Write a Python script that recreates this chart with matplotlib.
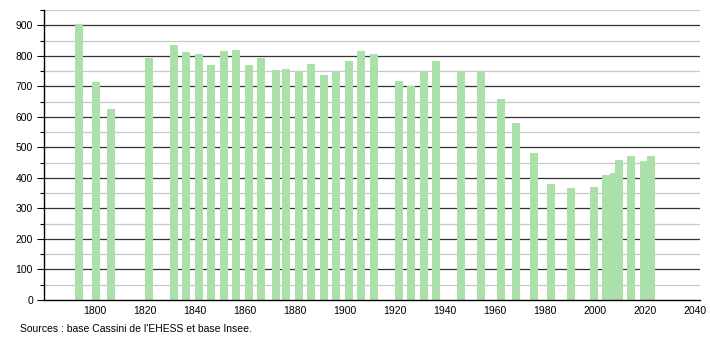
import numpy as np
import matplotlib.pyplot as plt
from matplotlib.ticker import MultipleLocator

# census years and population
years = [1793, 1800, 1806, 1821, 1831, 1836, 1841, 1846, 1851, 1856,
         1861, 1866, 1872, 1876, 1881, 1886, 1891, 1896, 1901, 1906,
         1911, 1921, 1926, 1931, 1936, 1946, 1954, 1962, 1968, 1975,
         1982, 1990, 1999, 2004, 2007, 2009, 2014, 2019, 2022]
population = [903, 715, 627, 793, 836, 811, 807, 770, 815, 820,
              770, 792, 754, 757, 751, 774, 738, 748, 784, 815,
              807, 718, 702, 748, 784, 751, 748, 659, 579, 482,
              380, 368, 371, 410, 417, 459, 473, 455, 472]
x_ticks = [1800, 1820, 1840, 1860, 1880, 1900, 1920, 1940, 1960, 1980, 2000, 2020, 2040]
source = "Sources : base Cassini de l'EHESS et base Insee."

plt.rcParams['font.family'] = ['Liberation Sans', 'DejaVu Sans']

fig = plt.figure(figsize=(7.1, 3.4), dpi=100)
ax = fig.add_axes([0.062, 0.1176, 0.924, 0.853])

# grid: dark lines every 100, light lines in between
for y in np.arange(50, 951, 100):
    ax.axhline(y, color='#c8c8c8', lw=0.9, zorder=0)
for y in np.arange(100, 901, 100):
    ax.axhline(y, color='#333333', lw=0.9, zorder=0)

ax.bar(np.array(years) + 0.5, population, width=3.2, color='#abe0ab', zorder=2)

ax.set_xlim(1779.7, 2042.1)
ax.set_ylim(0, 950)
ax.set_xticks(x_ticks)
ax.yaxis.set_major_locator(MultipleLocator(100))
ax.yaxis.set_minor_locator(MultipleLocator(50))
ax.tick_params(axis='y', which='major', length=5, width=0.8, labelsize=7.5, pad=3)
ax.tick_params(axis='y', which='minor', length=3, width=0.8)
ax.tick_params(axis='x', length=0, labelsize=7.5, pad=4)

for side in ['top', 'right']:
    ax.spines[side].set_visible(False)
ax.spines['left'].set_linewidth(1.0)
ax.spines['bottom'].set_linewidth(1.0)

fig.text(20 / 710, 1 - 329 / 340, source, fontsize=7.5, va='center', ha='left')

fig.savefig('out.png', dpi=100)
